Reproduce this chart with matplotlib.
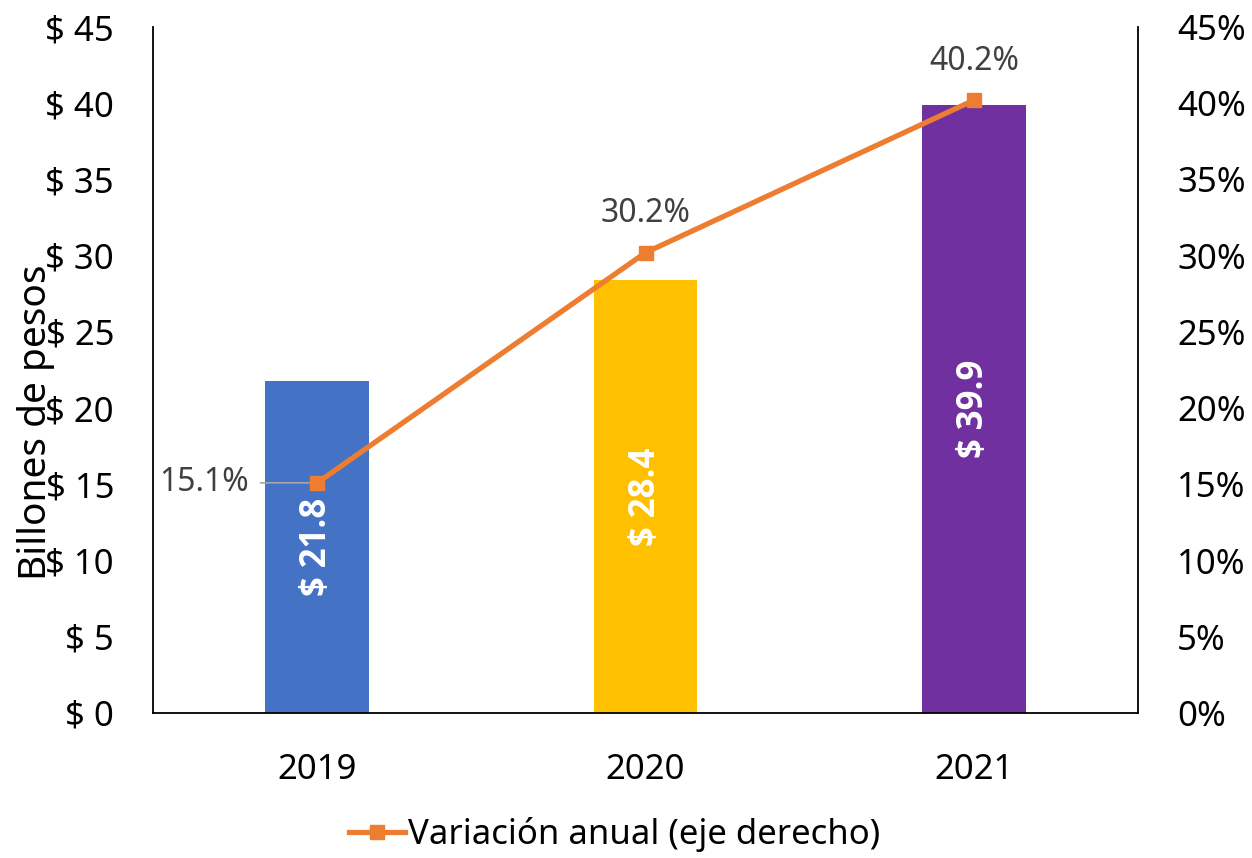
import matplotlib
matplotlib.use("Agg")
import matplotlib.pyplot as plt
from matplotlib.ticker import FuncFormatter

plt.rcParams['font.family'] = ['Noto Sans', 'DejaVu Sans']

years = ['2019', '2020', '2021']
billones = [21.8, 28.4, 39.9]
variacion = [15.1, 30.2, 40.2]
bar_colors = ['#4472C4', '#FFC000', '#7030A0']

fig = plt.figure(figsize=(12.52, 8.58), dpi=100)
ax = fig.add_axes([0.1222, 0.169, 0.7868, 0.7995])
x = list(range(len(years)))

bars = ax.bar(x, billones, width=0.315, color=bar_colors, zorder=2)
ax.set_xlim(-0.5, 2.5)
ax.set_ylim(0, 45)
ax.set_yticks(range(0, 46, 5))
ax.yaxis.set_major_formatter(FuncFormatter(lambda v, p: f'$ {v:.0f}'))
ax.set_xticks(x)
ax.set_xticklabels(years)
ax.tick_params(axis='both', length=0, labelsize=25)
ax.tick_params(axis='x', pad=29)
ax.tick_params(axis='y', pad=28)
for s in ['top', 'right']:
    ax.spines[s].set_visible(False)
for s in ['left', 'bottom']:
    ax.spines[s].set_linewidth(1.3)

for b, v in zip(bars, billones):
    ax.text(b.get_x() + b.get_width() / 2, v / 2, f'$ {v:.1f}', rotation=90,
            ha='center', va='center', color='white', fontsize=25,
            fontweight='bold', family=['Open Sans', 'DejaVu Sans'], zorder=3)

ax2 = ax.twinx()
ax2.set_ylim(0, 45)
ax2.set_yticks(range(0, 46, 5))
ax2.yaxis.set_major_formatter(FuncFormatter(lambda v, p: f'{v:.0f}%'))
ax2.tick_params(axis='y', length=0, labelsize=25, pad=28)
for s in ['top', 'left', 'bottom']:
    ax2.spines[s].set_visible(False)
ax2.spines['right'].set_linewidth(1.3)

line, = ax2.plot(x, variacion, color='#ED7D31', lw=3.8, marker='s',
                 markersize=10, label='Variación anual (eje derecho)', zorder=4)

ax2.annotate(f'{variacion[0]:.1f}%', xy=(x[0], variacion[0]), xytext=(-0.48, variacion[0]),
             ha='left', va='center', fontsize=23, color='#404040',
             arrowprops=dict(arrowstyle='-', color='#A6A6A6', lw=1.2, shrinkA=6, shrinkB=4))
for i in [1, 2]:
    ax2.annotate(f'{variacion[i]:.1f}%', xy=(x[i], variacion[i]), xytext=(0, 16),
                 textcoords='offset points', ha='center', va='bottom',
                 fontsize=23, color='#404040')

fig.text(0.029, 1 - 422 / 858, 'Billones de pesos', rotation=90, ha='center',
         va='center', fontsize=28)

fig.legend(handles=[line], loc='center', bbox_to_anchor=(0.491, 0.027),
           frameon=False, fontsize=25, handlelength=1.6, handletextpad=0.1)

fig.savefig('out.png', dpi=100)
